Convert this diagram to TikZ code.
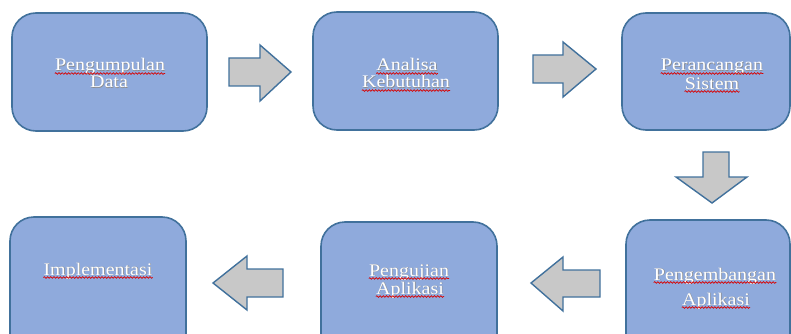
\documentclass[tikz,border=0pt]{standalone}
\usepackage{fontspec}
\newfontfamily\boxfont[FakeStretch=1.13]{Liberation Serif}
\usetikzlibrary{decorations.pathmorphing}
\definecolor{boxfill}{RGB}{143,170,220}
\definecolor{boxline}{RGB}{65,113,156}
\definecolor{arrfill}{RGB}{200,200,200}
\tikzset{
  stepbox/.style={draw=boxline, fill=boxfill, line width=1.6pt, rounded corners=24pt},
  blockarrow/.style={draw=boxline, fill=arrfill, line width=1.4pt, line join=miter},
  lbl/.style={inner sep=0pt, anchor=base, text=white, font=\boxfont\fontsize{17.7}{20}\selectfont},
  lblshadow/.style={inner sep=0pt, anchor=base, text=black!45, font=\boxfont\fontsize{17.7}{20}\selectfont},
  wavy/.style={draw=red!85!black, line width=0.7pt, decorate, decoration={snake, segment length=3.2pt, amplitude=0.8pt}}
}
\newcommand{\lab}[4]{% name, x, y, text
  \node[lblshadow] at ([xshift=0.6pt,yshift=-0.6pt]#2,#3) {#4};
  \node[lbl] (#1) at (#2,#3) {#4};}
\newcommand{\uline}[1]{\draw[wavy] ([yshift=-2.5pt]#1.base west) -- ([yshift=-2.5pt]#1.base east);}
\begin{document}
\begin{tikzpicture}[x=1pt,y=-1pt]
\useasboundingbox (0,0) rectangle (791,334);
\clip (0,0) rectangle (791,334);
% boxes
\draw[stepbox] (12,13) rectangle (207,131);
\draw[stepbox] (313,12) rectangle (498,130);
\draw[stepbox] (622,13) rectangle (790,130);
\draw[stepbox] (626,220) rectangle (790,360);
\draw[stepbox] (321,222) rectangle (497,360);
\draw[stepbox] (10,217) rectangle (186,360);
% arrows
\draw[blockarrow] (229,58) -- (260,58) -- (260,45) -- (291,72) -- (260,101) -- (260,86) -- (229,86) -- cycle;
\draw[blockarrow] (533,55) -- (563,55) -- (563,42) -- (596,69) -- (563,97) -- (563,83) -- (533,83) -- cycle;
\draw[blockarrow] (703,152) -- (729,152) -- (729,177) -- (747,177) -- (712,203) -- (676,177) -- (703,177) -- cycle;
\draw[blockarrow] (600,270) -- (563,270) -- (563,257) -- (531,283) -- (563,311) -- (563,297) -- (600,297) -- cycle;
\draw[blockarrow] (283,269) -- (247,269) -- (247,256) -- (213,283) -- (247,310) -- (247,297) -- (283,297) -- cycle;
% labels
\lab{t1a}{110}{71}{Pengumpulan}
\lab{t1b}{109}{88}{Data}
\lab{t2a}{407}{71}{Analisa}
\lab{t2b}{406}{88}{Kebutuhan}
\lab{t3a}{712}{71}{Perancangan}
\lab{t3b}{712}{89}{Sistem}
\lab{t4a}{715}{280}{Pengembangan}
\lab{t4b}{716}{305}{Aplikasi}
\lab{t5a}{409}{276}{Pengujian}
\lab{t5b}{410}{294}{Aplikasi}
\lab{t6a}{98}{275}{Implementasi}
% spell-check underlines
\uline{t1a}
\uline{t2a}
\uline{t2b}
\uline{t3a}
\uline{t3b}
\uline{t4a}
\uline{t4b}
\uline{t5a}
\uline{t5b}
\uline{t6a}
\end{tikzpicture}
\end{document}
